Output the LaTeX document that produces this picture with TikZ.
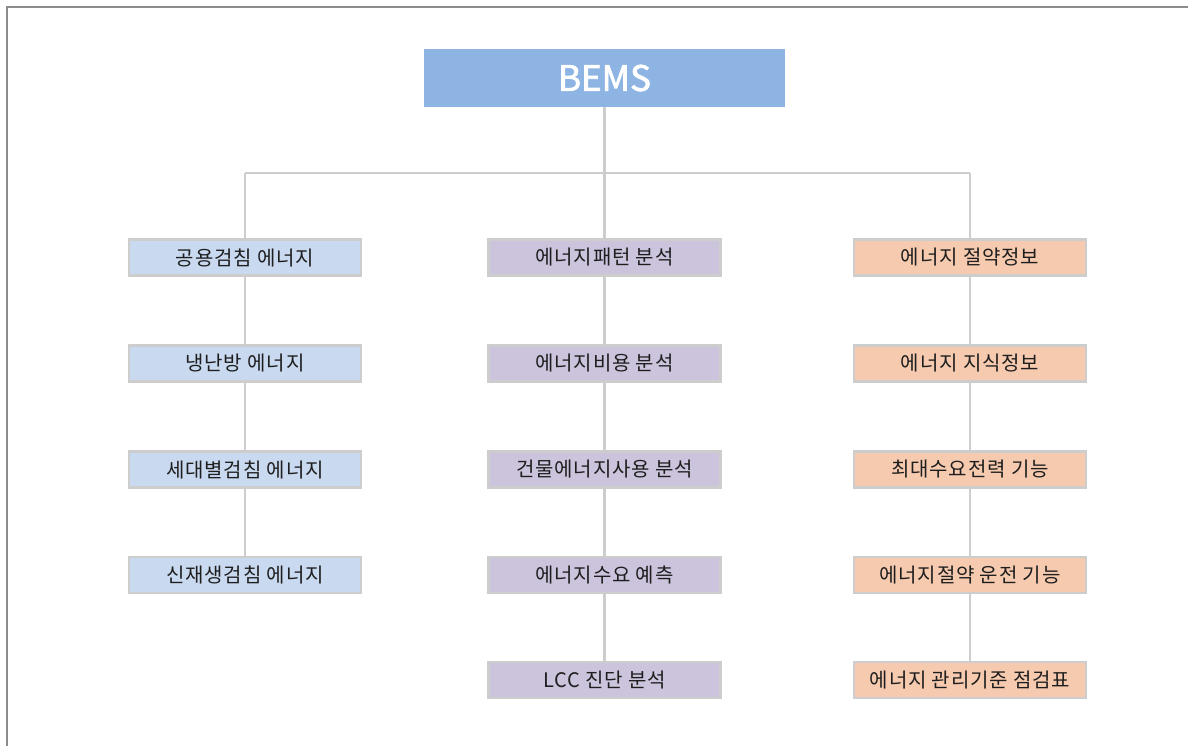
\documentclass[tikz,border=0pt]{standalone}
\usepackage{fontspec}
\setmainfont{Noto Sans CJK KR}
\newfontfamily\kr[LetterSpace=4]{Noto Sans CJK KR}
\newfontfamily\krtitle[FakeBold=2]{Noto Sans CJK KR}
\definecolor{frameline}{HTML}{8C8C8C}
\definecolor{conn}{HTML}{CDCDCD}
\definecolor{topfill}{HTML}{8DB4E2}
\definecolor{bluefill}{HTML}{C9D9EF}
\definecolor{purplefill}{HTML}{CCC3DC}
\definecolor{peachfill}{HTML}{F6CAAF}
\definecolor{txt}{HTML}{1E1E1E}
\tikzset{
  topbox/.style={fill=topfill, draw=none, minimum width=361pt, minimum height=58pt, inner sep=0pt,
    text=white, font=\krtitle\fontsize{35}{38}\selectfont},
  itembox/.style={draw=conn, line width=2.5pt, minimum width=232pt, minimum height=36pt, inner sep=0pt,
    text=txt, font=\kr\fontsize{20}{22}\selectfont},
  lb/.style={itembox, fill=bluefill},
  mb/.style={itembox, fill=purplefill},
  rb/.style={itembox, fill=peachfill},
  link/.style={draw=conn, line width=2.5pt},
}
\begin{document}
\begin{tikzpicture}[x=1pt,y=-1pt]
\useasboundingbox (0,0) rectangle (1188,746);
\draw[frameline, line width=2pt] (6.5,746) -- (6.5,7) -- (1188,7);

\node[topbox] (bems) at (604.5,78) {BEMS};

\coordinate (hub) at (604.5,173);
\coordinate (hl) at (245,173);
\coordinate (hr) at (970,173);

\node[lb] (l1) at (245,257.5) {공용검침 에너지};
\node[lb] (l2) at (245,363.5) {냉난방 에너지};
\node[lb] (l3) at (245,469.5) {세대별검침 에너지};
\node[lb] (l4) at (245,575) {신재생검침 에너지};

\node[mb] (m1) at (604.5,257.5) {에너지패턴 분석};
\node[mb] (m2) at (604.5,363.5) {에너지비용 분석};
\node[mb] (m3) at (604.5,469.5) {건물에너지사용 분석};
\node[mb] (m4) at (604.5,575) {에너지수요 예측};
\node[mb] (m5) at (604.5,680) {LCC 진단 분석};

\node[rb] (r1) at (970,257.5) {에너지 절약정보};
\node[rb] (r2) at (970,363.5) {에너지 지식정보};
\node[rb] (r3) at (970,469.5) {최대수요전력 기능};
\node[rb] (r4) at (970,575) {에너지절약 운전 기능};
\node[rb] (r5) at (970,680) {에너지 관리기준 점검표};

\begin{scope}[on background layer/.try]
\draw[link] (bems.south) -- (hub);
\draw[link] (hl) -- (hr);
\draw[link] (hl) -- (l1.north);
\draw[link] (hub) -- (m1.north);
\draw[link] (hr) -- (r1.north);
\draw[link] (l1) -- (l2);
\draw[link] (l2) -- (l3);
\draw[link] (l3) -- (l4);
\draw[link] (m1) -- (m2);
\draw[link] (m2) -- (m3);
\draw[link] (m3) -- (m4);
\draw[link] (m4) -- (m5);
\draw[link] (r1) -- (r2);
\draw[link] (r2) -- (r3);
\draw[link] (r3) -- (r4);
\draw[link] (r4) -- (r5);
\end{scope}
\end{tikzpicture}
\end{document}
